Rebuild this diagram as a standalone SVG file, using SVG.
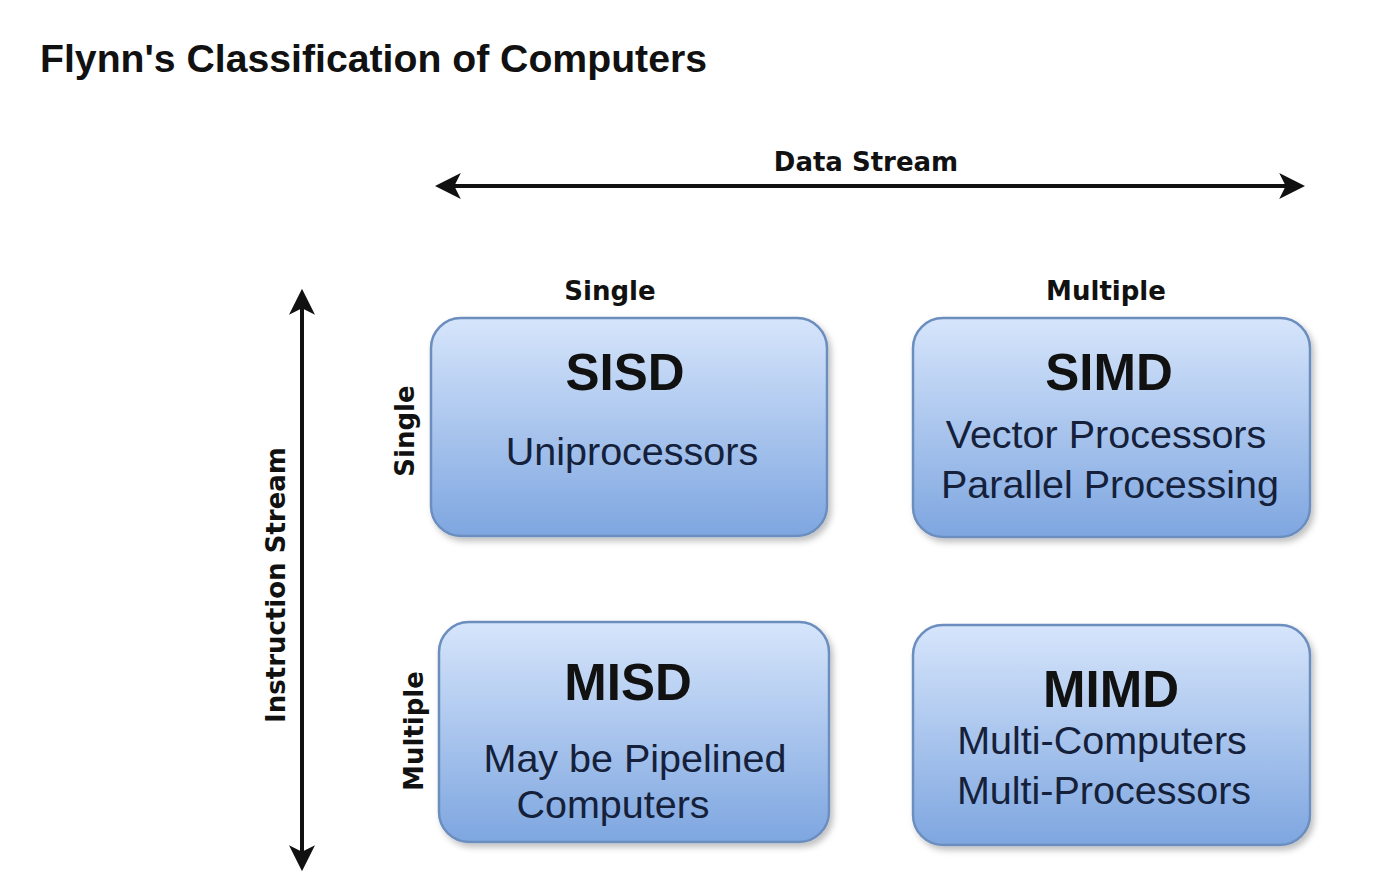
<svg xmlns="http://www.w3.org/2000/svg" width="1377" height="876" viewBox="0 0 1377 876">
<style>
.title{font-family:"Liberation Sans",Arial,sans-serif;font-weight:bold;font-size:39px;fill:#111}
.lbl{font-family:"DejaVu Sans",Verdana,sans-serif;font-weight:bold;font-size:26px;fill:#111;text-anchor:middle}
.box{fill:url(#g);stroke:#6c8ebf;stroke-width:2.5;filter:url(#sh)}
.h{font-family:"Liberation Sans",Arial,sans-serif;font-weight:bold;font-size:51px;fill:#111;text-anchor:middle}
.t{font-family:"Liberation Sans",Arial,sans-serif;font-size:39.5px;fill:#15213a;text-anchor:middle}
.ax{stroke:#111;stroke-width:4;fill:none}
</style>
<defs>
<linearGradient id="g" x1="0" y1="0" x2="0" y2="1">
<stop offset="0" stop-color="#d6e5fb"/>
<stop offset="1" stop-color="#7ea6e0"/>
</linearGradient>
<filter id="sh" x="-10%" y="-10%" width="130%" height="130%">
<feDropShadow dx="3" dy="4" stdDeviation="3" flood-color="#000" flood-opacity="0.25"/>
</filter>
<marker id="ah" viewBox="0 0 10 10" refX="8" refY="5" markerWidth="6.5" markerHeight="6.5" markerUnits="strokeWidth" orient="auto-start-reverse">
<path d="M0,0 L10,5 L0,10 L2.5,5 Z" fill="#111"/>
</marker>
</defs>
<rect width="1377" height="876" fill="#fff"/>
<text class="title" x="40" y="72" textLength="667" lengthAdjust="spacingAndGlyphs">Flynn's Classification of Computers</text>

<g id="connectors">
<line class="ax" x1="440" y1="186" x2="1300" y2="186" marker-start="url(#ah)" marker-end="url(#ah)"/>
<line class="ax" x1="302" y1="294" x2="302" y2="866" marker-start="url(#ah)" marker-end="url(#ah)"/>
</g>

<g id="labels">
<text class="lbl" x="866" y="171">Data Stream</text>
<text class="lbl" x="610" y="300">Single</text>
<text class="lbl" x="1106" y="300">Multiple</text>
<text class="lbl" transform="translate(285,585) rotate(-90)">Instruction Stream</text>
<text class="lbl" transform="translate(414,431) rotate(-90)">Single</text>
<text class="lbl" transform="translate(423,731) rotate(-90)">Multiple</text>
</g>

<g id="sisd">
<rect class="box" x="431" y="318" width="396" height="218" rx="30"/>
<text class="h" x="625" y="390">SISD</text>
<text class="t" x="632" y="465">Uniprocessors</text>
</g>
<g id="simd">
<rect class="box" x="913" y="318" width="397" height="219" rx="30"/>
<text class="h" x="1109" y="390">SIMD</text>
<text class="t" x="1106" y="448">Vector Processors</text>
<text class="t" x="1110" y="498">Parallel Processing</text>
</g>
<g id="misd">
<rect class="box" x="439" y="622" width="390" height="220" rx="30"/>
<text class="h" x="628" y="700">MISD</text>
<text class="t" x="635" y="772">May be Pipelined</text>
<text class="t" x="613" y="818">Computers</text>
</g>
<g id="mimd">
<rect class="box" x="913" y="625" width="397" height="220" rx="30"/>
<text class="h" x="1111" y="707">MIMD</text>
<text class="t" x="1102" y="754">Multi-Computers</text>
<text class="t" x="1104" y="804">Multi-Processors</text>
</g>
</svg>
